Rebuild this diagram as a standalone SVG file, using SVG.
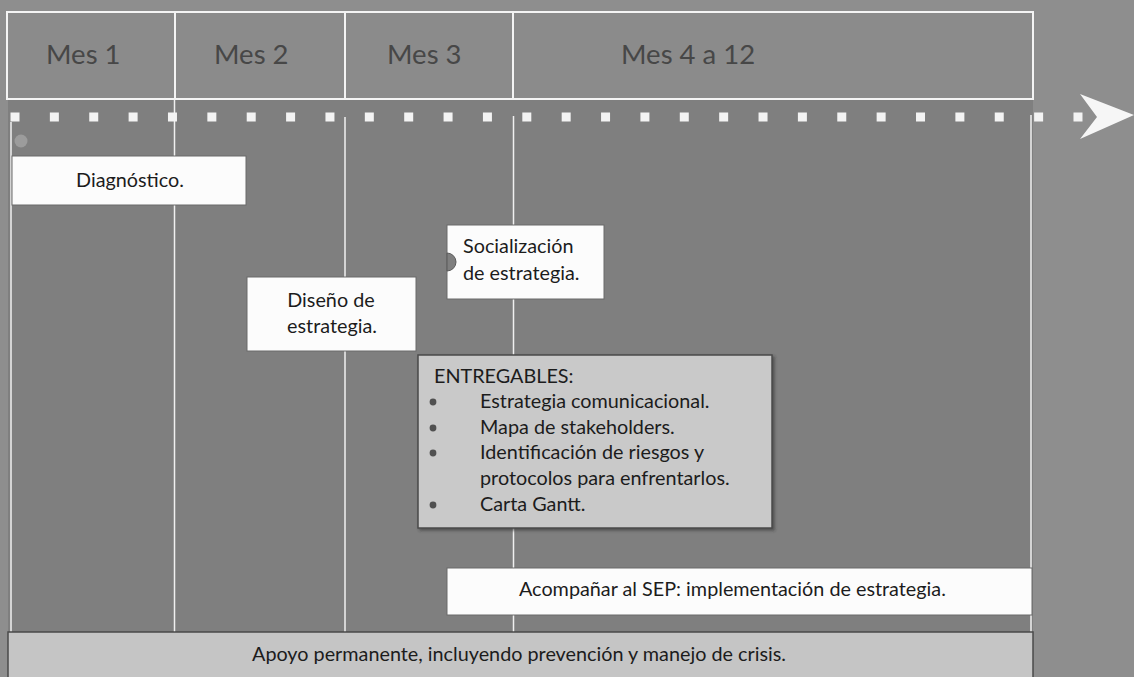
<svg xmlns="http://www.w3.org/2000/svg" width="1134" height="677" viewBox="0 0 1134 677">
<style>
.hdr{fill:#8b8b8b;stroke:#f4f4f4;stroke-width:2}
.vline{stroke:#f0f0f0;stroke-width:1.5;fill:none}
.box{fill:#fcfcfc;stroke:#6a6a6a;stroke-width:1}
.gbox{fill:#c9c9c9;stroke:#4a4a4a;stroke-width:1.5}
.mes{font-family:Lato,"Liberation Sans",sans-serif;font-size:27.5px;fill:#474747}
.t{font-family:Lato,"Liberation Sans",sans-serif;font-size:19.8px;fill:#1c1c1c}
.c{text-anchor:middle}
.bul{fill:#505050}
</style>
<defs>
<filter id="sh" x="-5%" y="-5%" width="110%" height="120%">
<feDropShadow dx="2" dy="2" stdDeviation="1.5" flood-color="#333" flood-opacity="0.6"/>
</filter>
</defs>
<rect x="0" y="0" width="1134" height="677" fill="#8e8e8e"/>
<rect x="8" y="99" width="1025" height="578" fill="#7f7f7f"/>

<g id="header">
<rect class="hdr" x="7" y="12" width="1026" height="87"/>
<line x1="175" y1="12" x2="175" y2="99" stroke="#f4f4f4" stroke-width="2"/>
<line x1="345" y1="12" x2="345" y2="99" stroke="#f4f4f4" stroke-width="2"/>
<line x1="513" y1="12" x2="513" y2="99" stroke="#f4f4f4" stroke-width="2"/>
<text class="mes" x="46" y="64">Mes 1</text>
<text class="mes" x="214" y="64">Mes 2</text>
<text class="mes" x="387" y="64">Mes 3</text>
<text class="mes" x="621" y="64">Mes 4 a 12</text>
</g>

<g id="connectors">
<line class="vline" x1="11" y1="122" x2="11" y2="633"/>
<line class="vline" x1="174.5" y1="99" x2="174.5" y2="633"/>
<line class="vline" x1="345" y1="117" x2="345" y2="633"/>
<line class="vline" x1="513.5" y1="116" x2="513.5" y2="633"/>
<line class="vline" x1="1031" y1="115" x2="1031" y2="633"/>
<line x1="10.5" y1="117" x2="1083" y2="117" stroke="#f3f3f3" stroke-width="9" stroke-dasharray="9 30.37"/>
<polygon points="1080,94 1134,115 1080,139 1097,117" fill="#f6f6f6"/>
<circle cx="21" cy="141" r="6.5" fill="#9c9c9c"/>
</g>

<g id="diagnostico">
<rect class="box" x="12" y="156" width="234" height="49"/>
<text class="t c" x="130" y="187">Diagnóstico.</text>
</g>

<g id="socializacion">
<rect class="box" x="447" y="225" width="157" height="74"/>
<path d="M447,253 A9,9 0 0 1 447,271 Z" fill="#7f7f7f" stroke="#5a5a5a" stroke-width="1"/>
<text class="t" x="463" y="253">Socialización</text>
<text class="t" x="463" y="280">de estrategia.</text>
</g>

<g id="diseno">
<rect class="box" x="247" y="277" width="169" height="74"/>
<text class="t c" x="331" y="307">Diseño de</text>
<text class="t c" x="332" y="333">estrategia.</text>
</g>

<g id="entregables">
<rect class="gbox" x="418" y="355" width="354" height="173" filter="url(#sh)"/>
<text class="t" x="434" y="383">ENTREGABLES:</text>
<circle class="bul" cx="433" cy="402" r="3.4"/>
<text class="t" x="480" y="408">Estrategia comunicacional.</text>
<circle class="bul" cx="433" cy="428" r="3.4"/>
<text class="t" x="480" y="434">Mapa de stakeholders.</text>
<circle class="bul" cx="433" cy="453" r="3.4"/>
<text class="t" x="480" y="459">Identificación de riesgos y</text>
<text class="t" x="480" y="485">protocolos para enfrentarlos.</text>
<circle class="bul" cx="433" cy="505" r="3.4"/>
<text class="t" x="480" y="511">Carta Gantt.</text>
</g>

<g id="acompanar">
<rect class="box" x="447" y="568" width="585" height="47"/>
<text class="t" x="519" y="596">Acompañar al SEP: implementación de estrategia.</text>
</g>

<g id="apoyo">
<rect x="8" y="632" width="1025" height="46" fill="#c5c5c5" stroke="#4a4a4a" stroke-width="1.5"/>
<text class="t c" x="519" y="661">Apoyo permanente, incluyendo prevención y manejo de crisis.</text>
</g>
</svg>
